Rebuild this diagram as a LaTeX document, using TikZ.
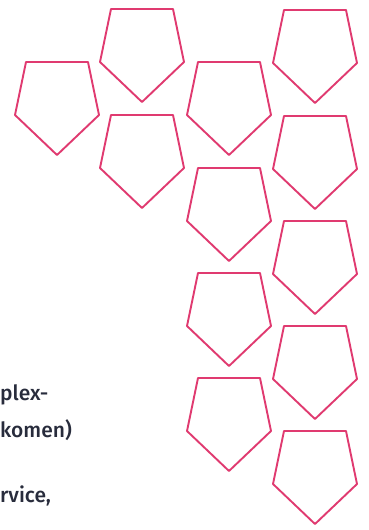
\documentclass[tikz,border=0pt]{standalone}
\usepackage{fontspec}
\setmainfont{Fira Sans}
\newfontfamily\labelfont{Fira Sans Medium}
\usepackage{xcolor}
\definecolor{shieldpink}{RGB}{224, 58, 112}
\definecolor{inkslate}{RGB}{40, 44, 60}

\begin{document}
\begin{tikzpicture}[x=1pt, y=-1pt,
  shieldline/.style={draw=shieldpink, line width=1.9pt, line join=round, fill=white},
  txt/.style={anchor=base west, inner sep=0pt, text=inkslate, font=\labelfont\fontsize{21}{25}\selectfont},
  shield/.pic={
    \draw[shieldline] (-31,0) -- (31,0) -- (42,53) -- (0,93) -- (-42,53) -- cycle;
  }]
  \useasboundingbox (0,0) rectangle (368,530);
  % shields, column by column
  \foreach \top in {62} \pic at (57,\top) {shield};
  \foreach \top in {9,115} \pic at (142,\top) {shield};
  \foreach \top in {62,168,273,378} \pic at (229,\top) {shield};
  \foreach \top in {10,116,221,326,431} \pic at (315,\top) {shield};
  % cut-off text on the left
  \node[txt] (t1) at (0,400) {plex-};
  \node[txt] (t2) at (0,437) {komen)};
  \node[txt] (t3) at (0,502) {rvice,};
\end{tikzpicture}
\end{document}
